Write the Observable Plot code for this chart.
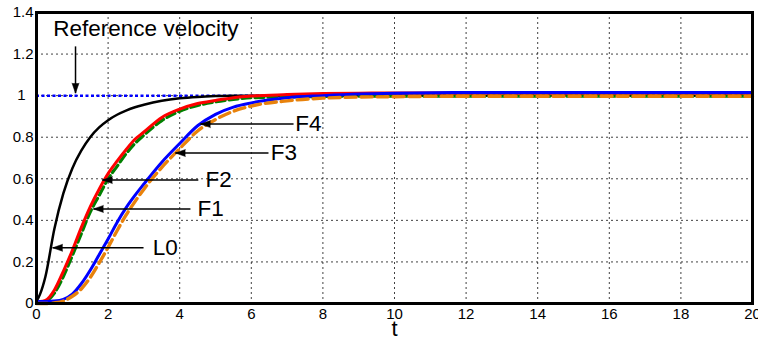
<!DOCTYPE html>
<html><head><meta charset="utf-8">
<script src="https://cdn.jsdelivr.net/npm/d3@7"></script>
<script src="https://cdn.jsdelivr.net/npm/@observablehq/plot@0.6"></script>
<style>
html,body{margin:0;padding:0;background:#fff;}
#chart svg{font-family:"Liberation Sans", Arial, sans-serif;background:#fff;}
</style></head><body><div id="chart"></div>
<script>
// ---- data ----
const tGrid = [0,0.1,0.25,0.5,0.75,1,1.25,1.5,1.75,2,2.25,2.5,2.75,3,3.5,4,4.5,5,5.5,6,7,8,9,10,12,14,16,18,20];
const seriesL0 = [0.01,0.045,0.13,0.36,0.53,0.65,0.735,0.80,0.847,0.882,0.908,0.928,0.944,0.956,0.975,0.987,0.994,0.998,1.0,1.0,1.0,1.0,1.0,1.0,1.0,1.0,1.0,1.0,1.0];
const seriesF2 = [0.01,0.01,0.015,0.065,0.155,0.255,0.365,0.465,0.55,0.625,0.685,0.74,0.79,0.825,0.895,0.935,0.962,0.977,0.99,0.998,1.005,1.01,1.012,1.013,1.013,1.013,1.013,1.013,1.013];
const seriesF1 = [0,0,0.008,0.05,0.13,0.23,0.335,0.44,0.52,0.60,0.66,0.72,0.77,0.81,0.88,0.925,0.953,0.97,0.982,0.99,0.994,0.996,0.997,0.997,0.997,0.997,0.997,0.997,0.997];
const seriesF4 = [0.01,0.01,0.01,0.012,0.02,0.045,0.095,0.16,0.235,0.31,0.39,0.46,0.52,0.575,0.68,0.77,0.855,0.91,0.945,0.965,0.99,1.0,1.008,1.012,1.015,1.015,1.015,1.015,1.015];
const seriesF3 = [0,0,0,0.003,0.012,0.035,0.07,0.125,0.195,0.27,0.35,0.425,0.49,0.55,0.655,0.745,0.83,0.885,0.925,0.95,0.975,0.988,0.993,0.995,0.997,0.997,0.997,0.997,0.997];

const xTicks = [0,2,4,6,8,10,12,14,16,18,20];
const yTicks = [0,0.2,0.4,0.6,0.8,1,1.2,1.4];
const xLabel = "t";
const referenceValue = 1;

// annotations (data coordinates)
const arrowLabels = ["F4","F3","F2","F1","L0"];
const arrowTailT = [7.18,6.48,4.52,4.30,2.99];
const arrowTipT = [4.58,3.88,1.84,1.59,0.45];
const arrowY = [0.863,0.724,0.594,0.455,0.268];
const labelT = [7.23,6.54,4.72,4.50,3.25];
const refLabel = "Reference velocity";
const refLabelT = 0.47, refLabelY = 1.323;
const refArrowT = 1.09, refArrowFromY = 1.237, refArrowToY = 1.012;

// ---- build tables ----
const mk = vals => tGrid.map((t,i) => ({t, v: vals[i]}));
const dL0 = mk(seriesL0), dF2 = mk(seriesF2), dF1 = mk(seriesF1), dF4 = mk(seriesF4), dF3 = mk(seriesF3);
const ann = arrowLabels.map((label,i) => ({label, tail: arrowTailT[i], tip: arrowTipT[i], y: arrowY[i], lt: labelT[i]}));
const refAnn = [{label: refLabel, lt: refLabelT, ly: refLabelY, t: refArrowT, y1: refArrowFromY, y2: refArrowToY}];

const font = 22.5;
const tickFont = 15;
const chart = Plot.plot({
  width: 758, height: 337,
  marginLeft: 36, marginRight: 6, marginTop: 12, marginBottom: 34,
  style: {fontFamily: '"Liberation Sans", Arial, sans-serif', fontSize: "15px", color: "black", background: "white"},
  x: {domain: [0,20]},
  y: {domain: [0,1.4]},
  marks: [
    Plot.gridX({ticks: xTicks, stroke: "#000", strokeOpacity: 0.75, strokeDasharray: "2,3", strokeWidth: 1}),
    Plot.gridY({ticks: yTicks, stroke: "#000", strokeOpacity: 0.75, strokeDasharray: "2,3", strokeWidth: 1}),
    Plot.axisX({ticks: xTicks, tickSize: 0, tickPadding: 5, label: null, fontSize: tickFont}),
    Plot.axisY({ticks: yTicks.filter(d => d !== 1), tickSize: 0, tickPadding: 3, label: null, fontSize: tickFont,
      tickFormat: d => d === 0 ? "0" : d.toFixed(1)}),
    Plot.axisY({ticks: [1], tickSize: 0, tickPadding: 3, label: null, fontSize: tickFont, dx: -8, tickFormat: d => String(d)}),
    Plot.ruleY([referenceValue], {stroke: "#0000ff", strokeWidth: 2.5, strokeDasharray: "3,2.5"}),
    Plot.line(dL0, {x: "t", y: "v", stroke: "#000", strokeWidth: 2.5, curve: "monotone-x"}),
    Plot.line(dF1, {x: "t", y: "v", stroke: "#008000", strokeWidth: 3.2, strokeDasharray: "9,4", curve: "monotone-x"}),
    Plot.line(dF2, {x: "t", y: "v", stroke: "#ff0000", strokeWidth: 3, curve: "monotone-x"}),
    Plot.line(dF4, {x: "t", y: "v", stroke: "#0000ff", strokeWidth: 3, curve: "monotone-x"}),
    Plot.line(dF3, {x: "t", y: "v", stroke: "#e8820c", strokeWidth: 3.4, strokeDasharray: "11,5", curve: "monotone-x"}),
    Plot.link(ann, {x1: "tail", x2: "tip", y1: "y", y2: "y", stroke: "#000", strokeWidth: 1.5}),
    Plot.vector(ann, {x: "tip", y: "y", shape: "spike", length: 10, r: 3.5, rotate: -90, anchor: "end", fill: "#000", fillOpacity: 1, stroke: "#000", strokeWidth: 0.5}),
    Plot.text(ann, {x: "lt", y: "y", text: "label", textAnchor: "start", lineAnchor: "middle", fontSize: font, fill: "#000"}),
    Plot.link(refAnn, {x1: "t", x2: "t", y1: "y1", y2: "y2", stroke: "#000", strokeWidth: 1.5}),
    Plot.vector(refAnn, {x: "t", y: "y2", shape: "spike", length: 10, r: 3.5, rotate: 180, anchor: "end", fill: "#000", fillOpacity: 1, stroke: "#000", strokeWidth: 0.5}),
    Plot.text(refAnn, {x: "lt", y: "ly", text: "label", textAnchor: "start", lineAnchor: "middle", fontSize: font, fill: "#000"}),
    Plot.text([xLabel], {frameAnchor: "bottom", text: d => d, dy: 25, lineAnchor: "middle", fontSize: 22, fill: "#000"}),
    Plot.frame({stroke: "#000", strokeWidth: 3})
  ]
});
document.getElementById("chart").appendChild(chart);
</script>
</body></html>
